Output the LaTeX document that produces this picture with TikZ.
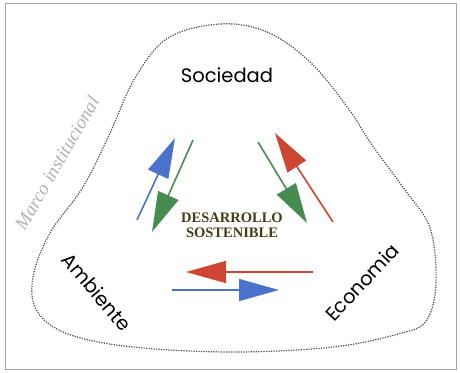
\documentclass[tikz,border=0pt]{standalone}
\usepackage{fontspec}
\newfontfamily\geofont{Poppins}
\newfontfamily\hwfont{Liberation Serif}
\usetikzlibrary{arrows.meta}

\definecolor{azul}{RGB}{75,115,205}
\definecolor{verde}{RGB}{70,140,80}
\definecolor{rojo}{RGB}{205,70,50}
\definecolor{oliva}{RGB}{70,60,20}

\begin{document}
\begin{tikzpicture}[
  x=1pt, y=-1pt,
  pillar/.style={font=\geofont\fontsize{19.5}{20}\selectfont, inner sep=0pt},
  flow/.style={-{Triangle[length=40pt,width=22pt]}, line width=1.6pt},
  core/.style={font=\hwfont\bfseries\fontsize{14.5}{15}\selectfont, text=oliva,
               align=center, inner sep=1pt},
  frame/.style={draw=gray!70, line width=0.6pt}
]
\useasboundingbox (0,0) rectangle (460,372);

% Frame
\draw[frame] (5,3) rectangle (456,369);

% Institutional boundary
\draw[dash pattern=on 1.2pt off 1.3pt, line width=1.2pt, gray!55!black]
  plot[smooth cycle, tension=0.6] coordinates {
    (220,24) (267,32) (310,62) (348,108) (372,145) (405,190) (430,228)
    (436,283) (426,321) (398,334) (333,347) (233,352) (133,347) (68,334)
    (37,311) (33,277) (50,233) (83,187) (110,133) (135,78) (168,38)};

\node[font=\hwfont\itshape\fontsize{19}{19}\selectfont, text=gray!60, rotate=60,
      inner sep=0pt] (marco) at (57,163) {Marco institucional};

% Pillars
\node[pillar] (soc) at (227,75) {Sociedad};
\node[pillar, rotate=-50] (amb) at (97,292) {Ambiente};
\node[pillar, rotate=47] (eco) at (362,282) {Economia};

% Core
\node[core] (des) at (232,225) {DESARROLLO\\SOSTENIBLE};

% Arrow end points
\coordinate (ab1) at (137,220); \coordinate (ab2) at (175,138);
\coordinate (ag1) at (193,140); \coordinate (ag2) at (152,232);
\coordinate (eg1) at (258,142); \coordinate (eg2) at (307,223);
\coordinate (er1) at (333,222); \coordinate (er2) at (275,133);
\coordinate (br1) at (313,272); \coordinate (br2) at (186,272);
\coordinate (bb1) at (172,290); \coordinate (bb2) at (279,290);

% Exchanges
\draw[flow, azul]  (ab1) -- (ab2);
\draw[flow, verde] (ag1) -- (ag2);
\draw[flow, verde] (eg1) -- (eg2);
\draw[flow, rojo]  (er1) -- (er2);
\draw[flow, rojo]  (br1) -- (br2);
\draw[flow, azul]  (bb1) -- (bb2);

\end{tikzpicture}
\end{document}
